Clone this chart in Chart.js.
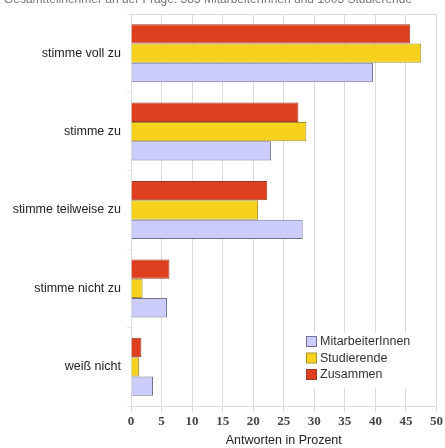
<!DOCTYPE html>
<html>
<head>
<meta charset="utf-8">
<script src="https://cdn.jsdelivr.net/npm/chart.js@4/dist/chart.umd.min.js"></script>
<style>
  html, body { margin: 0; padding: 0; background: #fff; }
  #wrap { width: 445px; height: 448px; position: relative; }
</style>
</head>
<body>
<div id="wrap"><canvas id="chart"></canvas></div>
<script>
// Daten
const categories = ['stimme voll zu', 'stimme zu', 'stimme teilweise zu', 'stimme nicht zu', 'weiß nicht'];
const zusammen = [45.7, 27.4, 22.3, 6.3, 1.7];
const studierende = [47.5, 28.7, 20.8, 1.9, 1.3];
const mitarbeiter = [39.6, 22.9, 28.1, 5.9, 3.6];
const xTicks = [0, 5, 10, 15, 20, 25, 30, 35, 40, 45, 50];
const topText = 'Gesamtteilnehmer an der Frage: 385 MitarbeiterInnen und 1003 Studierende';

const ctx = document.getElementById('chart').getContext('2d');

// Legende im Diagramm + obere Linie + abgeschnittener Text oben
const extras = {
    id: 'extras',
    afterDraw(chart) {
        const c = chart.ctx;
        const a = chart.chartArea;
        c.save();
        c.strokeStyle = '#dcdcdc';
        c.lineWidth = 1;
        c.beginPath();
        c.moveTo(a.left, a.top + 0.5);
        c.lineTo(a.right, a.top + 0.5);
        c.stroke();

        c.fillStyle = '#777';
        c.font = '12px "Liberation Sans", Arial, sans-serif';
        c.textAlign = 'center';
        c.textBaseline = 'middle';
        c.fillText(topText, 208, 0);

        // Legende mit weißem Hintergrund (umgekehrte Reihenfolge)
        c.fillStyle = '#fff';
        c.fillRect(302, 333, 114, 55);
        const items = chart.data.datasets.slice().reverse();
        c.textAlign = 'left';
        c.font = '12.5px "Liberation Sans", Arial, sans-serif';
        items.forEach((ds, i) => {
            const y = 342 + i * 16.5;
            c.fillStyle = ds.backgroundColor;
            c.fillRect(306.5, y - 5.5, 10, 10);
            c.strokeStyle = ds.borderColor;
            c.strokeRect(306.5, y - 5.5, 10, 10);
            c.fillStyle = '#333';
            c.fillText(ds.label, 320, y);
        });
        c.restore();
    }
};

new Chart(ctx, {
    type: 'bar',
    data: {
        labels: categories,
        datasets: [
            { label: 'Zusammen', data: zusammen, backgroundColor: '#de401f', borderColor: '#9c3a28', borderWidth: 1 },
            { label: 'Studierende', data: studierende, backgroundColor: '#f6d21c', borderColor: '#a8922e', borderWidth: 1 },
            { label: 'MitarbeiterInnen', data: mitarbeiter, backgroundColor: '#ccccfb', borderColor: '#6f6f95', borderWidth: 1 }
        ]
    },
    options: {
        indexAxis: 'y',
        responsive: true,
        maintainAspectRatio: false,
        animation: false,
        layout: { padding: { top: 14, right: 7, left: 0, bottom: 0 } },
        datasets: { bar: { categoryPercentage: 0.74, barPercentage: 1 } },
        plugins: {
            legend: { display: false },
            tooltip: { enabled: false }
        },
        scales: {
            x: {
                min: 0,
                max: 50,
                afterBuildTicks: (scale) => { scale.ticks = xTicks.map(v => ({ value: v })); },
                afterFit: (scale) => { scale.height = 42; },
                grid: { color: '#dcdcdc', tickLength: 6, tickColor: '#dcdcdc' },
                border: { display: true, color: '#dcdcdc' },
                ticks: {
                    color: '#444',
                    padding: 2,
                    font: { family: '"Liberation Serif", "DejaVu Serif", serif', size: 13, weight: 'bold' }
                },
                title: {
                    display: true,
                    text: 'Antworten in Prozent',
                    color: '#222',
                    padding: { top: 3, bottom: 0 },
                    font: { family: '"Liberation Sans", Arial, sans-serif', size: 12.5 }
                }
            },
            y: {
                afterFit: (scale) => { scale.width = 131; },
                grid: { display: true, drawOnChartArea: false, offset: true, tickLength: 4, color: '#e6e6e6' },
                border: { display: true, color: '#dcdcdc' },
                ticks: {
                    color: '#222',
                    padding: 6,
                    font: { family: '"Liberation Sans", Arial, sans-serif', size: 12.5 }
                }
            }
        }
    },
    plugins: [extras]
});
</script>
</body>
</html>
